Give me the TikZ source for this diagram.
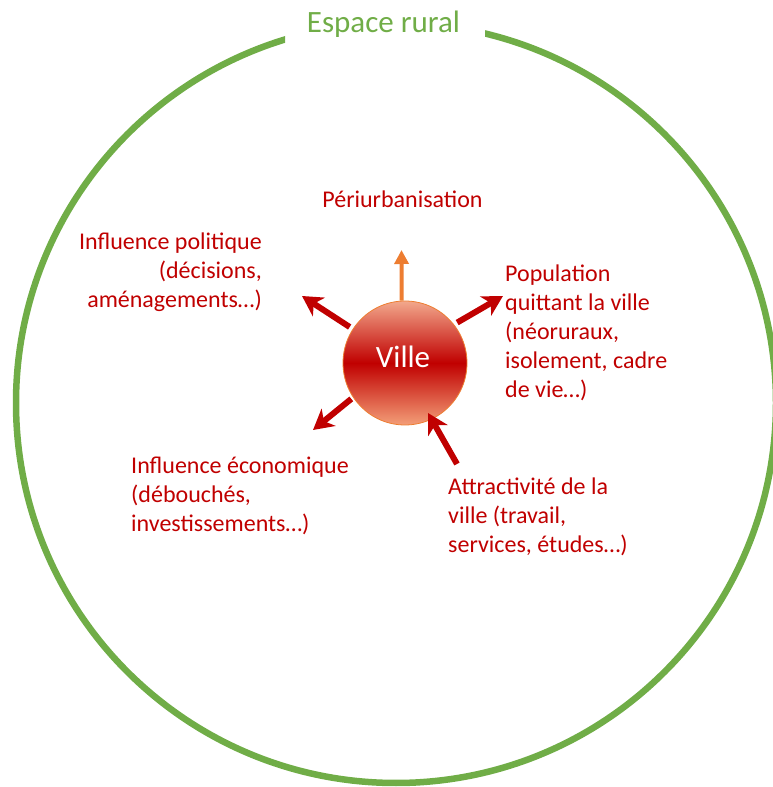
\documentclass[tikz,border=0pt]{standalone}
\usepackage{fontspec}
\setmainfont{Carlito}
\usetikzlibrary{arrows.meta}
\definecolor{rgreen}{RGB}{112,173,71}
\definecolor{dred}{RGB}{192,0,0}
\definecolor{orng}{RGB}{237,125,49}
\definecolor{salmtop}{RGB}{242,168,140}
\definecolor{salmbot}{RGB}{243,158,120}
\tikzset{
  lbl/.style={text=dred, font=\fontsize{24}{29}\selectfont, inner sep=0pt},
  redarrow/.style={draw=dred, line width=6pt, -{Stealth[length=20pt,width=22pt,inset=6pt]}},
  orarrow/.style={draw=orng, line width=4pt, -{Triangle[length=14pt,width=14pt]}},
}
\begin{document}
\begin{tikzpicture}[x=1pt,y=1pt]
\useasboundingbox (0,0) rectangle (773,787);
% rural circle with gap for title
\begin{scope}
  \clip (0,0) rectangle (285,787) (485,0) rectangle (773,787) (285,0) rectangle (485,700);
  \draw[rgreen, line width=6.5pt] (396,384) circle[radius=380];
\end{scope}
\node[text=rgreen, font=\fontsize{31}{36}\selectfont, anchor=base, inner sep=0pt] (title) at (383.5,754) {Espace rural};
% city
\node[circle, minimum size=124pt, inner sep=0pt, draw=orng, line width=0.8pt,
      top color=salmtop, bottom color=salmbot, middle color=dred] (ville) at (405,424) {};
\node[text=white, font=\fontsize{31}{36}\selectfont, anchor=base, inner sep=0pt] (villetxt) at (403,419) {Ville};
% labels (base anchor = baseline of the last line)
\node[lbl, anchor=base] (peri) at (402.5,579) {Périurbanisation};
\node[lbl, anchor=base east, align=right] (polit) at (262,479) {Influence politique\\(décisions,\\aménagements…)};
\node[lbl, anchor=base west, align=left] (popul) at (505,389) {Population\\quittant la ville\\(néoruraux,\\isolement, cadre\\de vie…)};
\node[lbl, anchor=base west, align=left] (econ) at (131,255) {Influence économique\\(débouchés,\\investissements…)};
\node[lbl, anchor=base west, align=left] (attr) at (448,234) {Attractivité de la\\ville (travail,\\services, études…)};
% arrow ends
\coordinate (tup) at (401.5,537);
\coordinate (tul) at (302,491);
\coordinate (tur) at (503,491);
\coordinate (tdl) at (313,357);
\coordinate (tdr) at (457,323);
\coordinate (tdrtip) at (428,374);
\draw[orarrow] (ville.93) -- (tup);
\draw[redarrow] (ville.147) ++(-3,2) -- (tul);
\draw[redarrow] (ville.38) ++(3,2) -- (tur);
\draw[redarrow] (ville.214) ++(-2,-1) -- (tdl);
\draw[redarrow] (tdr) -- (tdrtip);
\end{tikzpicture}
\end{document}
